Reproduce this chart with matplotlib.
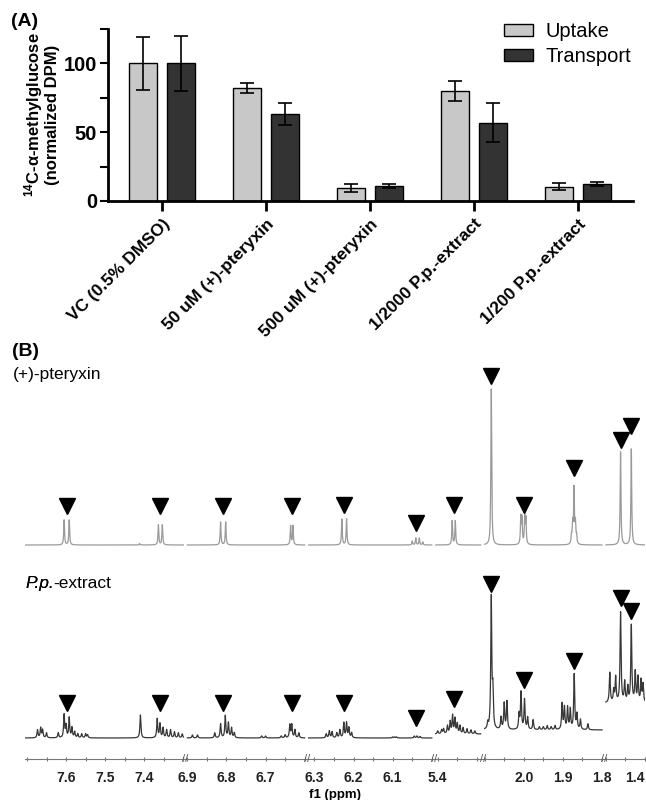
import numpy as np
import matplotlib
matplotlib.use('Agg')
import matplotlib.pyplot as plt
from matplotlib.patches import Patch

plt.rcParams['font.family'] = ['Liberation Sans', 'DejaVu Sans']
plt.rcParams['mathtext.fontset'] = 'custom'
plt.rcParams['mathtext.rm'] = 'Liberation Sans'
plt.rcParams['mathtext.bf'] = 'Liberation Sans:bold'

# ---- (A) glucose uptake / transport ----
groups = ['VC (0.5% DMSO)', '50 uM (+)-pteryxin', '500 uM (+)-pteryxin',
          '1/2000 P.p.-extract', '1/200 P.p.-extract']
uptake = [100, 82, 9.5, 80, 10.5]
uptake_err = [19, 3.5, 2.8, 7, 2.5]
transport = [100, 63, 11, 57, 12.5]
transport_err = [20, 8, 1.6, 14, 1.5]

# ---- (B) 1H NMR ----
# ppm windows shown on the broken axis (left to right)
windows = [(7.705, 7.30), (6.90, 6.60), (6.315, 6.00), (5.405, 5.29), (2.10, 1.80), (1.50, 1.40)]
ppm_ticks = [7.6, 7.5, 7.4, 6.9, 6.8, 6.7, 6.3, 6.2, 6.1, 5.4, 2.0, 1.9, 1.8, 1.4]

pteryxin_ppm = [7.605, 7.592, 7.412, 7.364, 7.354, 6.815, 6.802, 6.636, 6.630,
                6.230, 6.218, 6.050, 6.041, 6.032, 6.023, 5.363, 5.355,
                2.083, 2.0075, 2.0045, 1.9975, 1.9945,
                1.878, 1.875, 1.8715, 1.868, 1.865, 1.4625, 1.435]
pteryxin_int = [25, 25, 1.5, 20, 20, 23, 23, 19, 19,
                26, 26, 4, 7, 7, 3, 24, 24,
                156, 27, 25, 27, 25,
                8, 20, 55, 20, 8, 93, 96]

extract_ppm = [7.673, 7.665, 7.660, 7.650, 7.620, 7.605, 7.600, 7.592, 7.585, 7.578,
               7.570, 7.560, 7.550, 7.545, 7.410, 7.367, 7.360, 7.352, 7.343, 7.333,
               7.323, 7.313, 7.303,
               6.887, 6.874, 6.830, 6.815, 6.803, 6.795, 6.787, 6.780, 6.710, 6.700,
               6.660, 6.650, 6.638, 6.633, 6.625, 6.615,
               6.270, 6.262, 6.255, 6.243, 6.235, 6.225, 6.218, 6.212, 6.205,
               6.100, 6.095, 6.090, 6.045, 6.038, 6.030,
               5.400, 5.390, 5.385, 5.375, 5.368, 5.362, 5.356, 5.350, 5.343, 5.335,
               5.325, 5.315, 5.305,
               2.092, 2.083, 2.079, 2.058, 2.050, 2.043, 2.012, 2.007, 1.998, 1.990,
               1.976, 1.960, 1.950, 1.940, 1.930, 1.920, 1.902, 1.896, 1.888, 1.881,
               1.871, 1.864, 1.855, 1.836,
               1.490, 1.480, 1.475, 1.4625, 1.452, 1.444, 1.435, 1.425, 1.418, 1.410, 1.405]
extract_int = [8, 10, 8, 5, 5, 23, 12, 20, 10, 6,
               4, 4, 4, 3, 23, 19, 14, 10, 8, 8,
               6, 5, 4,
               3, 3, 5, 14, 22, 15, 10, 5, 2, 2,
               2, 3, 13, 13, 8, 5,
               4, 7, 6, 5, 8, 15, 15, 10, 5,
               1, 1, 1, 2, 2, 1.5,
               3, 4, 5, 8, 12, 18, 15, 10, 8, 6,
               5, 4, 3,
               6, 131, 35, 12, 26, 28, 15, 37, 30, 12,
               10, 3, 3, 4, 3, 4, 26, 22, 22, 20,
               55, 15, 10, 6,
               30, 12, 25, 90, 20, 15, 77, 30, 25, 22, 18]
extract_base = [0, 0, 0, 4, 8, 35]

# assigned pteryxin signals (arrowheads) and their heights above each baseline
mark_ppm = [7.598, 7.360, 6.808, 6.633, 6.224, 6.040, 5.359, 2.083, 2.000, 1.871, 1.462, 1.436]
mark_top = [39, 39, 39, 39, 40, 22, 40, 169, 40, 77, 105, 119]
mark_bot = [35, 35, 35, 35, 35, 20, 39, 154, 58, 77, 140, 127]

fig = plt.figure(figsize=(6.46, 8.0), dpi=100)

# ---------------- panel A ----------------
axA = fig.add_axes([108 / 646, 1 - 201 / 800, 525 / 646, 172 / 800])
x = np.arange(len(groups))
ekw = dict(elinewidth=1.2, capthick=1.2, ecolor='black')
axA.bar(x - 0.18, uptake, 0.27, yerr=uptake_err, color='#c8c8c8', edgecolor='black',
        linewidth=1, capsize=5, error_kw=ekw)
axA.bar(x + 0.18, transport, 0.27, yerr=transport_err, color='#333333', edgecolor='black',
        linewidth=1, capsize=5, error_kw=ekw)
axA.set_xlim(-0.52, 4.53)
axA.set_ylim(0, 125)
axA.set_yticks([0, 25, 50, 75, 100, 125])
axA.set_yticklabels(['0', '', '50', '', '100', ''], fontsize=14.5, fontweight='bold')
axA.set_xticks(x)
axA.set_xticklabels(groups, rotation=45, ha='right', va='top', rotation_mode='anchor',
                    fontsize=12.5, fontweight='bold')
axA.tick_params(axis='y', length=6, width=1.5, pad=2)
axA.tick_params(axis='x', length=7, width=2, pad=4)
for s in ['top', 'right']:
    axA.spines[s].set_visible(False)
for s in ['left', 'bottom']:
    axA.spines[s].set_linewidth(2)
axA.set_ylabel('$\\mathbf{^{14}}$C-α-methylglucose\n(normalized DPM)', fontsize=12,
               fontweight='bold', linespacing=1.0)
axA.yaxis.set_label_coords(-0.092, 0.5)

handles = [Patch(facecolor='#c8c8c8', edgecolor='black', label='Uptake'),
           Patch(facecolor='#333333', edgecolor='black', label='Transport')]
fig.legend(handles=handles, loc='upper left', bbox_to_anchor=(504 / 646, 1 - 22 / 800),
           frameon=False, fontsize=14.5, handlelength=1.45, handleheight=0.6,
           handletextpad=0.6, labelspacing=0.3, borderpad=0, borderaxespad=0)

fig.text(11 / 646, 1 - 21 / 800, '(A)', fontsize=14, fontweight='bold', va='center')

# ---------------- panel B ----------------
# piecewise ppm -> display mapping for the broken axis
k_ppm, k_disp = [], []
d = 0.0
for hi, lo in windows:
    k_ppm += [hi, lo]
    k_disp += [d, d + (hi - lo) * 400]
    d = d + (hi - lo) * 400 + 4
k_ppm = [50.0] + k_ppm + [-50.0]
k_disp = [k_disp[0] - (50 - windows[0][0]) * 400] + k_disp + [k_disp[-1] + (windows[-1][1] + 50) * 400]
kp = np.array(k_ppm)
kd = np.array(k_disp)


def fwd(v):
    return -np.interp(v, kp[::-1], kd[::-1])


def inv(v):
    return np.interp(-np.asarray(v), kd, kp)


axB = fig.add_axes([25 / 646, 1 - 759 / 800, 620 / 646, 414 / 800])
axB.set_xscale('function', functions=(fwd, inv))
axB.set_xlim(windows[0][0], windows[-1][1])
axB.set_ylim(0, 414)

top_off, bot_off = 214, 21


def lines(grid, centers, heights, hw):
    c = np.asarray(centers)[:, None]
    h = np.asarray(heights)[:, None]
    return (h / (1 + ((grid[None, :] - c) / hw) ** 2)).sum(axis=0)


for i, (hi, lo) in enumerate(windows):
    g = np.linspace(hi, lo, 1500)
    axB.plot(g, top_off + lines(g, pteryxin_ppm, pteryxin_int, 0.0012), color='#9a9a9a', lw=0.9)
    axB.plot(g, bot_off + extract_base[i] + lines(g, extract_ppm, extract_int, 0.0015),
             color='#383838', lw=0.9)

axB.plot(mark_ppm, top_off + np.array(mark_top), 'v', color='black', ms=11)
axB.plot(mark_ppm, bot_off + np.array(mark_bot), 'v', color='black', ms=11)

minor = []
for hi, lo in windows:
    t = np.ceil(lo / 0.05 - 1e-6) * 0.05
    while t <= hi + 1e-9:
        minor.append(t)
        t += 0.05
axB.set_xticks(ppm_ticks)
axB.set_xticklabels([f'{t:.1f}' for t in ppm_ticks], fontsize=10, fontweight='bold', color='#222222')
axB.get_xticklabels()[-1].set_horizontalalignment('right')
axB.set_xticks(minor, minor=True)
axB.tick_params(axis='x', which='both', length=3, width=0.8, color='#777777', direction='inout', pad=7)
axB.set_yticks([])
for s in ['top', 'right', 'left']:
    axB.spines[s].set_visible(False)
axB.spines['bottom'].set_color('#777777')
axB.spines['bottom'].set_linewidth(0.8)
axB.set_xlabel('f1 (ppm)', fontsize=9.5, fontweight='bold', labelpad=3)

# break marks on the axis
for (h1, l1), (h2, l2) in zip(windows[:-1], windows[1:]):
    axB.text((l1 + h2) / 2, 0, '//', transform=axB.get_xaxis_transform(), fontsize=8,
             color='#555555', ha='center', va='center')

fig.text(12 / 646, 1 - 352 / 800, '(B)', fontsize=14, fontweight='bold', va='center')
fig.text(13 / 646, 1 - 375 / 800, '(+)-pteryxin', fontsize=12.5, va='center')
pp = fig.text(25 / 646, 1 - 591 / 800, 'P.p.', fontsize=12.5, style='italic', va='bottom')
fig.add_artist(pp)
axB.annotate('-extract', xy=(1, 0), xycoords=pp, fontsize=12.5, va='bottom', ha='left',
             annotation_clip=False)

fig.savefig('out.png', dpi=100)
